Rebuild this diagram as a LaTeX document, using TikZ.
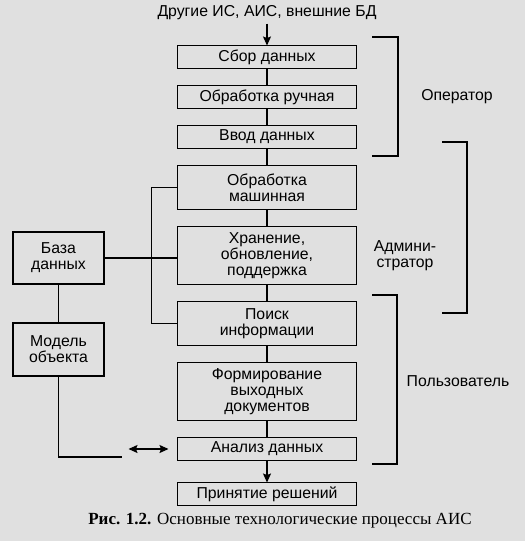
\documentclass[tikz,border=0pt]{standalone}
\usepackage{fontspec}
\setmainfont{Liberation Sans}
\newfontfamily\capfont{Liberation Serif}
\usetikzlibrary{arrows.meta, positioning}

\begin{document}
\begin{tikzpicture}[
    x=1pt, y=-1pt,
    node distance=17pt,
    proc/.style={draw, line width=1.2pt, outer sep=0pt, minimum width=179pt, minimum height=23pt, inner sep=1pt, align=center, font=\fontsize{15.8}{16}\selectfont},
    side/.style={draw, line width=1.2pt, outer sep=0pt, minimum width=91pt, minimum height=52pt, inner sep=1pt, align=center, font=\fontsize{15.8}{16}\selectfont},
    lbl/.style={align=center, font=\fontsize{15.8}{16}\selectfont},
    arrow/.style={-{Stealth[length=9pt, width=8pt, inset=1.5pt]}, line width=1.2pt},
    twoway/.style={{Stealth[length=9pt, width=8pt, inset=1.5pt]}-{Stealth[length=9pt, width=8pt, inset=1.5pt]}, line width=1.2pt},
    link/.style={line width=1.2pt}
]
    \path[use as bounding box, fill=black!12] (0,0) rectangle (525,541);

    % main column
    \node[lbl] (src) at (267,13) {Другие ИС, АИС, внешние БД};
    \node[proc] (sbor) at (267,57) {Сбор данных};
    \node[proc] (ruch) [below=of sbor] {Обработка ручная};
    \node[proc] (vvod) [below=of ruch] {Ввод данных};
    \node[proc, minimum height=44pt] (mash) [below=of vvod] {Обработка\\машинная};
    \node[proc, minimum height=58pt] (hran) [below=of mash] {Хранение,\\обновление,\\поддержка};
    \node[proc, minimum height=44pt] (poisk) [below=of hran] {Поиск\\информации};
    \node[proc, minimum height=58pt] (form) [below=of poisk] {Формирование\\выходных\\документов};
    \node[proc] (anal) [below=of form] {Анализ данных};
    \node[proc] (resh) [below=22pt of anal] {Принятие решений};

    % left column
    \node[side] (baza) at (58.5,258) {База\\данных};
    \node[side, minimum height=53pt] (model) at (58.5,349.5) {Модель\\объекта};

    % roles
    \node[lbl] (oper) at (457,97) {Оператор};
    \node[lbl] (admin) at (405,256) {Админи-\\стратор};
    \node[lbl] (polz) at (458,381) {Пользователь};

    \draw[arrow] (src) -- (sbor);
    \draw[link] (sbor) -- (ruch);
    \draw[link] (ruch) -- (vvod);
    \draw[link] (vvod) -- (mash);
    \draw[link] (mash) -- (hran);
    \draw[link] (hran) -- (poisk);
    \draw[link] (poisk) -- (form);
    \draw[link] (form) -- (anal);
    \draw[arrow] (anal) -- (resh);

    \draw[link] (mash.west) -- ++(-26,0) |- (poisk.west);
    \draw[link] (baza.east) -- (baza.east -| hran.west);
    \draw[link] (baza) -- (model);
    \coordinate (mend) at ([xshift=-56pt, yshift=-8pt]anal.west);
    \draw[link] (model.south) |- (mend);
    \coordinate (astart) at ([xshift=-49pt]anal.west);
    \draw[twoway, shorten >=9pt] (astart) -- (anal.west);

    % brackets
    \draw[link] (372,37) -- (398,37) -- (398,156) -- (372,156);
    \draw[link] (442,142) -- (467,142) -- (467,313) -- (442,313);
    \draw[link] (372,295) -- (397,295) -- (397,464) -- (372,464);

    \node[font=\capfont\fontsize{17}{19}\selectfont] (cap) at (280,521) {\textbf{Рис. 1.2.} Основные технологические процессы АИС};
\end{tikzpicture}
\end{document}
